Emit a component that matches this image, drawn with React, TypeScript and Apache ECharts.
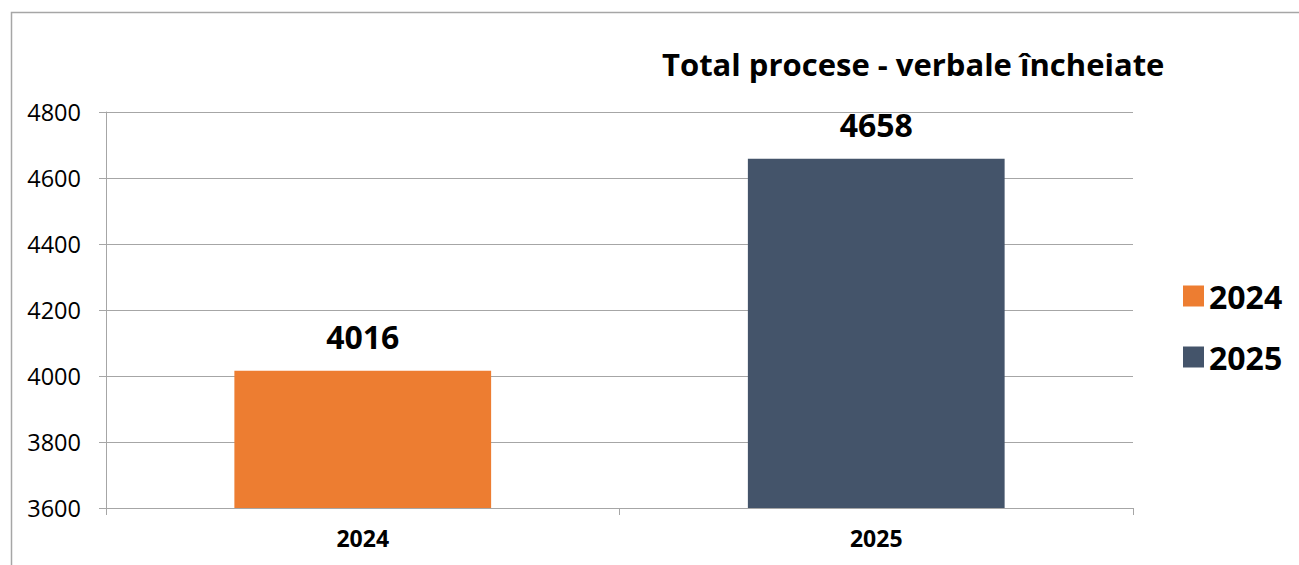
import React, { useEffect, useRef } from "react";
import * as echarts from "echarts";

const categories = ["2024", "2025"];
const seriesNames = ["2024", "2025"];
const values2024 = [4016, null];
const values2025 = [null, 4658];
const colors = ["#ED7D31", "#44546A"];
const titleText = "Total procese - verbale încheiate";

const FONT = "'Open Sans', sans-serif";

export default function App() {
  const ref = useRef<HTMLDivElement>(null);
  useEffect(() => {
    if (!ref.current) return;
    const chart = echarts.init(ref.current, undefined, { renderer: "svg" });
    const labelStyle = {
      show: true,
      position: "top",
      distance: 18,
      fontFamily: FONT,
      fontSize: 32,
      fontWeight: "bold",
      color: "#000",
    };
    chart.setOption({
      animation: false,
      backgroundColor: "#ffffff",
      textStyle: { fontFamily: FONT },
      title: {
        text: titleText,
        left: 657,
        top: 43,
        textStyle: { fontFamily: FONT, fontSize: 31, fontWeight: "bold", color: "#000" },
      },
      legend: {
        orient: "vertical",
        left: 1178,
        top: 275,
        itemWidth: 21,
        itemHeight: 21,
        itemGap: 29,
        icon: "rect",
        data: seriesNames,
        textStyle: { fontFamily: FONT, fontSize: 32, fontWeight: "bold", color: "#000" },
      },
      grid: { left: 106, right: 166, top: 112, bottom: 57, containLabel: false },
      xAxis: {
        type: "category",
        data: categories,
        boundaryGap: true,
        axisLine: { show: true, lineStyle: { color: "#A6A6A6", width: 1 } },
        axisTick: { show: true, length: 7, lineStyle: { color: "#A6A6A6" } },
        axisLabel: { fontFamily: FONT, fontSize: 23, fontWeight: "bold", color: "#000", margin: 18 },
      },
      yAxis: {
        type: "value",
        min: 3600,
        max: 4800,
        interval: 200,
        axisLine: { show: true, lineStyle: { color: "#A6A6A6", width: 1 } },
        axisTick: { show: true, length: 7, lineStyle: { color: "#A6A6A6" } },
        splitLine: { show: true, lineStyle: { color: "#A6A6A6", width: 1 } },
        axisLabel: {
          fontFamily: FONT,
          fontSize: 23.5,
          color: "#000",
          margin: 25,
          formatter: (v: number) => String(v),
        },
      },
      series: [
        {
          name: seriesNames[0],
          type: "bar",
          stack: "total",
          barWidth: "50%",
          data: values2024,
          itemStyle: { color: colors[0] },
          label: labelStyle,
        },
        {
          name: seriesNames[1],
          type: "bar",
          stack: "total",
          barWidth: "50%",
          data: values2025,
          itemStyle: { color: colors[1] },
          label: labelStyle,
        },
      ],
      graphic: [
        {
          type: "rect",
          silent: true,
          shape: { x: 11.5, y: 12.5, width: 1300, height: 600 },
          style: { fill: "none", stroke: "#A6A6A6", lineWidth: 1.5 },
        },
      ],
    });
    return () => chart.dispose();
  }, []);
  return (
    <div
      ref={ref}
      style={{ position: "absolute", left: 0, top: 0, width: 1299, height: 565 }}
    />
  );
}
